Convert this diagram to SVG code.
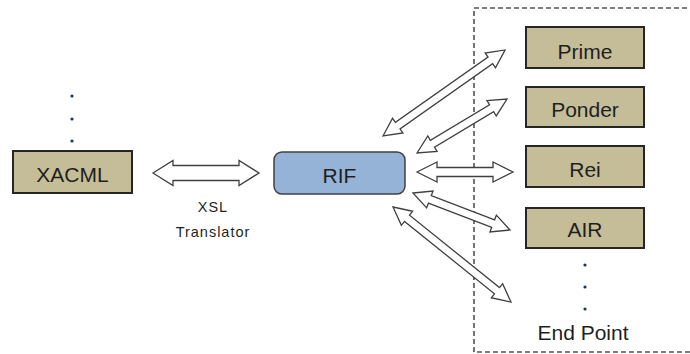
<svg xmlns="http://www.w3.org/2000/svg" width="690" height="354" viewBox="0 0 690 354">
<style>
.box{fill:#c4bd97;stroke:#262626;stroke-width:2}
.rif{fill:#95b3d7;stroke:#404040;stroke-width:1.5}
.lbl{font-family:"Liberation Sans",Arial,sans-serif;font-size:21px;fill:#1f1f1f;text-anchor:middle}
.sm{font-family:"Liberation Sans",Arial,sans-serif;font-size:14.5px;fill:#1f1f1f;text-anchor:middle;letter-spacing:1px}
.arr{fill:#fff;stroke:#404040;stroke-width:1.3;stroke-linejoin:miter}
.dot{fill:#17375e}
</style>
<rect width="690" height="354" fill="#fff"/>
<rect x="474" y="8" width="220" height="344" fill="none" stroke="#000" stroke-width="1.1" stroke-dasharray="5,3"/>
<g id="connectors">
  <polygon class="arr" transform="translate(153,173)" points="0,0 20,-12.5 20,-7.5 86,-7.5 86,-12.5 106,0 86,12.5 86,7.5 20,7.5 20,12.5"/>
  <polygon class="arr" transform="translate(383,136) rotate(-35.18)" points="0,0 18,-9 18,-4 131.3,-4 131.3,-9 149.3,0 131.3,9 131.3,4 18,4 18,9"/>
  <polygon class="arr" transform="translate(417,153) rotate(-30.96)" points="0,0 18,-9 18,-4 87,-4 87,-9 105,0 87,9 87,4 18,4 18,9"/>
  <polygon class="arr" transform="translate(417,172)" points="0,0 20,-10 20,-4.5 76,-4.5 76,-10 96,0 76,10 76,4.5 20,4.5 20,10"/>
  <polygon class="arr" transform="translate(413,193) rotate(20.88)" points="0,0 18,-9 18,-4 85.8,-4 85.8,-9 103.8,0 85.8,9 85.8,4 18,4 18,9"/>
  <polygon class="arr" transform="translate(393,207) rotate(38.84)" points="0,0 18,-9 18,-4 133.5,-4 133.5,-9 151.5,0 133.5,9 133.5,4 18,4 18,9"/>
</g>
<g id="xsl-label">
  <text class="sm" x="213" y="212">XSL</text>
  <text class="sm" x="213" y="237">Translator</text>
</g>
<g id="xacml">
  <circle class="dot" cx="72" cy="96" r="1.6"/>
  <circle class="dot" cx="72" cy="119" r="1.6"/>
  <circle class="dot" cx="72" cy="141" r="1.6"/>
  <rect class="box" x="13" y="151" width="119" height="42"/>
  <text class="lbl" x="72.5" y="182">XACML</text>
</g>
<g id="rif">
  <rect class="rif" x="274" y="152" width="131" height="42" rx="8"/>
  <text class="lbl" x="339.5" y="183">RIF</text>
</g>
<g id="prime">
  <rect class="box" x="526" y="27" width="118" height="41"/>
  <text class="lbl" x="585" y="59">Prime</text>
</g>
<g id="ponder">
  <rect class="box" x="526" y="87" width="118" height="40"/>
  <text class="lbl" x="585" y="117">Ponder</text>
</g>
<g id="rei">
  <rect class="box" x="526" y="146" width="118" height="41"/>
  <text class="lbl" x="585" y="177">Rei</text>
</g>
<g id="air">
  <rect class="box" x="526" y="208" width="118" height="40"/>
  <text class="lbl" x="585" y="237">AIR</text>
</g>
<g id="endpoint">
  <circle class="dot" cx="585" cy="265" r="1.6"/>
  <circle class="dot" cx="585" cy="287" r="1.6"/>
  <circle class="dot" cx="585" cy="309" r="1.6"/>
  <text class="lbl" x="583" y="340">End Point</text>
</g>
</svg>
